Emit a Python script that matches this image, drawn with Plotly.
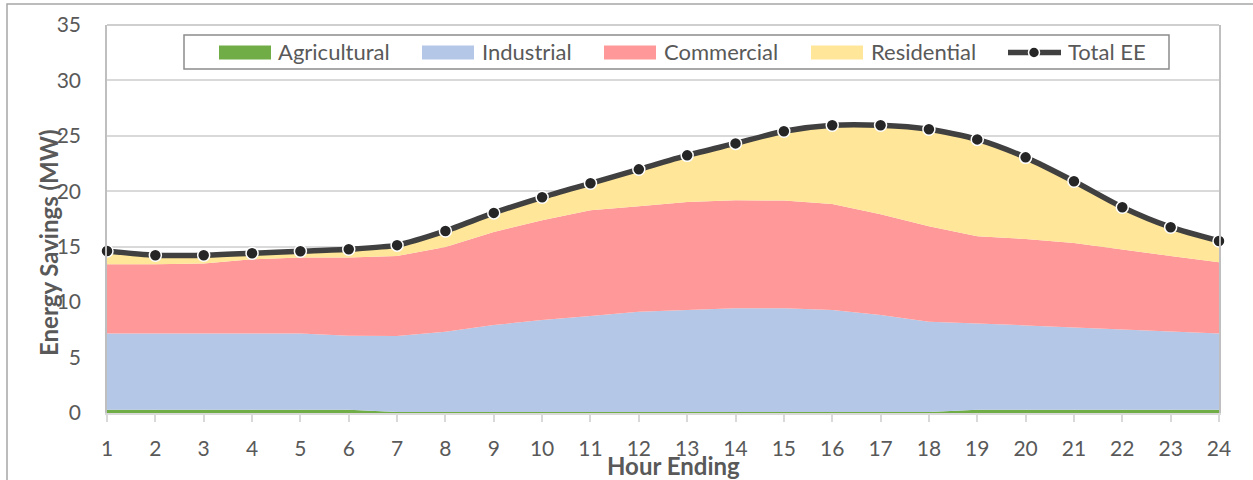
import plotly.graph_objects as go

# Hourly energy-efficiency savings by sector (MW)
hours = list(range(1, 25))
agricultural = [0.3, 0.3, 0.3, 0.3, 0.3, 0.3, 0.08, 0.08, 0.08, 0.08, 0.08, 0.08,
                0.08, 0.08, 0.08, 0.08, 0.08, 0.08, 0.3, 0.3, 0.3, 0.3, 0.3, 0.3]
industrial = [6.88, 6.88, 6.88, 6.88, 6.88, 6.66, 6.86, 7.25, 7.85, 8.30, 8.66, 9.05,
              9.20, 9.38, 9.38, 9.22, 8.75, 8.15, 7.78, 7.60, 7.42, 7.24, 7.06, 6.88]
commercial = [6.24, 6.24, 6.30, 6.69, 6.84, 7.06, 7.23, 7.65, 8.40, 9.01, 9.55, 9.52,
              9.76, 9.73, 9.70, 9.56, 9.10, 8.62, 7.87, 7.80, 7.62, 7.21, 6.81, 6.42]
residential = [1.20, 0.81, 0.75, 0.54, 0.57, 0.75, 0.97, 1.44, 1.72, 2.07, 2.43, 3.33,
               4.20, 5.13, 6.25, 7.09, 8.02, 8.74, 8.73, 7.36, 5.56, 3.81, 2.59, 1.92]
total_ee = [14.62, 14.23, 14.23, 14.41, 14.59, 14.77, 15.14, 16.42, 18.05, 19.46, 20.72, 21.98,
            23.24, 24.32, 25.41, 25.95, 25.95, 25.59, 24.68, 23.06, 20.90, 18.56, 16.76, 15.52]
y_ticks = [0, 5, 10, 15, 20, 25, 30, 35]

sectors = ["Agricultural", "Industrial", "Commercial", "Residential"]
sector_values = [agricultural, industrial, commercial, residential]
sector_colors = ["#70AD47", "#B4C7E7", "#FF9999", "#FFE699"]
line_color = "#404040"
text_color = "#595959"
font_family = "Lato, Open Sans, sans-serif"

W, H = 1253, 480
M_L, M_R, M_T, M_B = 107, 34, 25, 67
PW, PH = W - M_L - M_R, H - M_T - M_B


def px_x(px):
    return (px - M_L) / PW


def px_y(py):
    return (H - M_B - py) / PH


fig = go.Figure()

for name, vals, col in zip(sectors, sector_values, sector_colors):
    fig.add_trace(go.Scatter(
        x=hours, y=vals, name=name, stackgroup="sectors", mode="none",
        fillcolor=col, line=dict(width=0), showlegend=False,
    ))

fig.add_trace(go.Scatter(
    x=hours, y=total_ee, name="Total EE", mode="lines+markers",
    line=dict(color=line_color, width=5.5, shape="spline", smoothing=0.7),
    marker=dict(size=12, color="#262626", line=dict(color="white", width=1.5)),
    showlegend=False, cliponaxis=False,
))

shapes = []
annotations = []

# outer chart frame
shapes.append(dict(type="rect", xref="paper", yref="paper",
                   x0=px_x(7), x1=px_x(W + 20), y0=px_y(4), y1=px_y(H + 20),
                   line=dict(color="#A6A6A6", width=1.5), fillcolor="rgba(0,0,0,0)",
                   layer="below"))
# top edge of plot area
shapes.append(dict(type="line", xref="paper", yref="paper", x0=0, x1=1, y0=1, y1=1,
                   line=dict(color="#BFBFBF", width=1.5)))

# legend box
shapes.append(dict(type="rect", xref="paper", yref="paper",
                   x0=px_x(184), x1=px_x(1169), y0=px_y(69), y1=px_y(35),
                   line=dict(color="#8C8C8C", width=1.5), fillcolor="white"))

legend_swatches = [219, 422, 604, 811]
legend_texts = [276, 480, 662, 869]
for name, col, sx, tx in zip(sectors, sector_colors, legend_swatches, legend_texts):
    shapes.append(dict(type="rect", xref="paper", yref="paper",
                       x0=px_x(sx), x1=px_x(sx + 52), y0=px_y(59.5), y1=px_y(45.5),
                       line=dict(width=0), fillcolor=col))
    annotations.append(dict(text=name, xref="paper", yref="paper", x=px_x(tx), y=px_y(52),
                            xanchor="left", yanchor="middle", showarrow=False,
                            font=dict(family=font_family, size=22, color=text_color)))

shapes.append(dict(type="line", xref="paper", yref="paper",
                   x0=px_x(1008), x1=px_x(1061), y0=px_y(52.5), y1=px_y(52.5),
                   line=dict(color=line_color, width=5.5)))
shapes.append(dict(type="circle", xref="paper", yref="paper",
                   x0=px_x(1028.5), x1=px_x(1039.5), y0=px_y(58), y1=px_y(47),
                   line=dict(color="white", width=1.5), fillcolor="#262626"))
annotations.append(dict(text="Total EE", xref="paper", yref="paper", x=px_x(1066), y=px_y(52),
                        xanchor="left", yanchor="middle", showarrow=False,
                        font=dict(family=font_family, size=22, color=text_color)))

# axis titles
annotations.append(dict(text="<b>Hour Ending</b>", xref="paper", yref="paper",
                        x=px_x(673), y=px_y(465), xanchor="center", yanchor="middle",
                        showarrow=False,
                        font=dict(family=font_family, size=24, color=text_color)))
annotations.append(dict(text="<b>Energy Savings (MW)</b>", xref="paper", yref="paper",
                        x=px_x(48), y=px_y(243), xanchor="center", yanchor="middle",
                        textangle=-90, showarrow=False,
                        font=dict(family=font_family, size=24, color=text_color)))

fig.update_layout(
    width=W, height=H,
    margin=dict(l=M_L, r=M_R, t=M_T, b=M_B, pad=0),
    paper_bgcolor="white", plot_bgcolor="white",
    showlegend=False,
    shapes=shapes, annotations=annotations,
    font=dict(family=font_family, color=text_color),
)
fig.update_xaxes(
    range=[1, 24], tickmode="array", tickvals=hours, ticktext=[str(h) for h in hours],
    showgrid=False, zeroline=False,
    showline=True, linecolor="#D9D9D9", linewidth=1.5,
    ticks="outside", ticklen=7, tickcolor="#D9D9D9", tickwidth=1.5,
    tickfont=dict(family=font_family, size=21, color=text_color),
    ticklabelstandoff=9,
)
fig.update_yaxes(
    range=[0, 35], tickmode="array", tickvals=y_ticks, ticktext=[str(v) for v in y_ticks],
    showgrid=True, gridcolor="#D9D9D9", gridwidth=1.5, zeroline=False,
    showline=True, linecolor="#BFBFBF", linewidth=1.5, mirror=True,
    ticks="", tickfont=dict(family=font_family, size=21, color=text_color),
    ticklabelstandoff=20,
)

fig.write_html("out.html")
